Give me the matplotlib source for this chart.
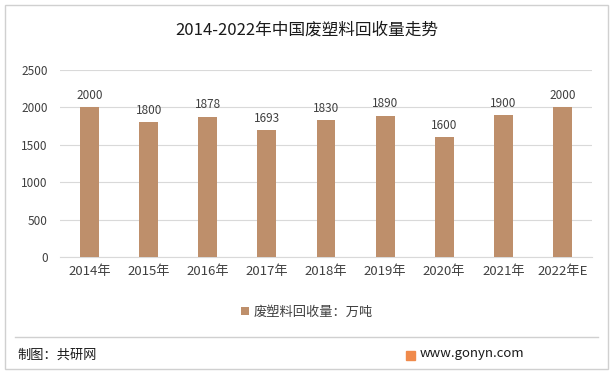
import matplotlib.pyplot as plt
from matplotlib.patches import Rectangle
from matplotlib.lines import Line2D

plt.rcParams['font.family'] = ['Noto Sans CJK SC', 'DejaVu Sans']

years = ["2014年", "2015年", "2016年", "2017年", "2018年", "2019年", "2020年", "2021年", "2022年E"]
values = [2000, 1800, 1878, 1693, 1830, 1890, 1600, 1900, 2000]
yticks = [0, 500, 1000, 1500, 2000, 2500]

bar_color = "#BE8F6B"
text_color = "#404040"

fig = plt.figure(figsize=(6.14, 3.74), dpi=100)
ax = fig.add_axes([60 / 614, 1 - 257 / 374, 532 / 614, 187 / 374])

x = range(len(years))
bars = ax.bar(x, values, width=0.32, color=bar_color, label="废塑料回收量：万吨", zorder=3)
for xi, v in zip(x, values):
    ax.text(xi, v + 70, str(v), ha="center", va="bottom", fontsize=8.5, color=text_color)

ax.set_xlim(-0.5, len(years) - 0.5)
ax.set_ylim(0, 2500)
ax.set_yticks(yticks)
ax.set_xticks(list(x))
ax.set_xticklabels(years, fontsize=9.5, color=text_color)
ax.tick_params(axis="y", labelsize=8.5, labelcolor=text_color, length=0, pad=9)
ax.tick_params(axis="x", length=0, pad=6)
ax.grid(axis="y", color="#D9D9D9", linewidth=0.8, zorder=0)
for s in ["top", "right", "left"]:
    ax.spines[s].set_visible(False)
ax.spines["bottom"].set_color("#D9D9D9")

fig.legend(handles=[bars], labels=["废塑料回收量：万吨"], loc="center",
           bbox_to_anchor=(0.5, 1 - 312 / 374), frameon=False, fontsize=9.5,
           handlelength=0.6, handleheight=0.6, handletextpad=0.4,
           labelcolor=text_color)

fig.text(0.5, 1 - 30 / 374, "2014-2022年中国废塑料回收量走势", ha="center", va="center",
         fontsize=12, color="#1a1a1a")

# outer frame and footer divider
fig.patches.append(Rectangle((5 / 614, 5 / 374), 603 / 614, 364 / 374, transform=fig.transFigure,
                             fill=False, edgecolor="#D0D0D0", linewidth=1))
fig.lines.append(Line2D([15 / 614, 598 / 614], [1 - 337 / 374] * 2, transform=fig.transFigure,
                        color="#D0D0D0", linewidth=1))
fig.text(17 / 614, 1 - 355 / 374, "制图：共研网", ha="left", va="center", fontsize=9.5, color="#1a1a1a")
fig.patches.append(Rectangle((406 / 614, 1 - 360 / 374), 9 / 614, 9 / 374, transform=fig.transFigure,
                             color="#F08A4B"))
fig.text(420 / 614, 1 - 354 / 374, "www.gonyn.com", ha="left", va="center", fontsize=9.5, color="#1a1a1a")

fig.savefig("out.png", dpi=100)
